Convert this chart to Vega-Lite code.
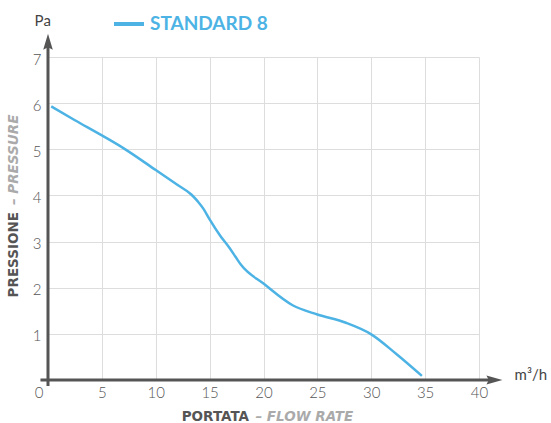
{
  "$schema": "https://vega.github.io/schema/vega-lite/v6.json",
  "width": 431,
  "height": 323,
  "autosize": {"type": "none"},
  "padding": {"left": 48, "top": 57, "right": 72, "bottom": 43},
  "background": "white",
  "config": {"view": {"stroke": null}, "font": "Lato"},
  "datasets": {
    "curve": [
      {"series": "STANDARD 8", "q": 0.3, "p": 5.93},
      {"series": "STANDARD 8", "q": 2.5, "p": 5.63},
      {"series": "STANDARD 8", "q": 5, "p": 5.3},
      {"series": "STANDARD 8", "q": 7.1, "p": 5.01},
      {"series": "STANDARD 8", "q": 10, "p": 4.55},
      {"series": "STANDARD 8", "q": 12, "p": 4.23},
      {"series": "STANDARD 8", "q": 13.3, "p": 4.02},
      {"series": "STANDARD 8", "q": 13.9, "p": 3.87},
      {"series": "STANDARD 8", "q": 14.4, "p": 3.72},
      {"series": "STANDARD 8", "q": 15, "p": 3.48},
      {"series": "STANDARD 8", "q": 16.0, "p": 3.12},
      {"series": "STANDARD 8", "q": 16.85, "p": 2.86},
      {"series": "STANDARD 8", "q": 17.4, "p": 2.67},
      {"series": "STANDARD 8", "q": 17.93, "p": 2.49},
      {"series": "STANDARD 8", "q": 20, "p": 2.09},
      {"series": "STANDARD 8", "q": 22.7, "p": 1.62},
      {"series": "STANDARD 8", "q": 25, "p": 1.42},
      {"series": "STANDARD 8", "q": 27.65, "p": 1.24},
      {"series": "STANDARD 8", "q": 30, "p": 0.99},
      {"series": "STANDARD 8", "q": 32.3, "p": 0.57},
      {"series": "STANDARD 8", "q": 34.7, "p": 0.09}
    ],
    "one": [{}]
  },
  "layer": [
    {
      "data": {"name": "curve"},
      "mark": {"type": "line", "strokeWidth": 2.5, "interpolate": "monotone"},
      "encoding": {
        "x": {
          "field": "q", "type": "quantitative",
          "scale": {"domain": [0, 40], "nice": false, "zero": false},
          "axis": {
            "values": [0, 5, 10, 15, 20, 25, 30, 35, 40],
            "title": null, "domain": false, "ticks": false,
            "grid": true, "gridColor": "#dddddd", "gridWidth": 1,
            "labelFontSize": 15, "labelColor": "#555555", "labelFontWeight": 300,
            "labelPadding": 5,
            "labelAlign": {"condition": {"test": "datum.value === 0", "value": "right"}, "value": "center"},
            "labelOffset": {"condition": {"test": "datum.value === 0", "value": -5}, "value": 0}
          }
        },
        "y": {
          "field": "p", "type": "quantitative",
          "scale": {"domain": [0, 7], "nice": false, "zero": false},
          "axis": {
            "values": [1, 2, 3, 4, 5, 6, 7],
            "title": null, "domain": false, "ticks": false,
            "grid": true, "gridColor": "#dddddd", "gridWidth": 1,
            "labelFontSize": 15, "labelColor": "#555555", "labelFontWeight": 300,
            "labelPadding": 7, "labelOffset": 2
          }
        },
        "color": {
          "field": "series", "type": "nominal",
          "scale": {"domain": ["STANDARD 8"], "range": ["#4db3e4"]},
          "legend": {
            "title": null, "orient": "none", "legendX": 64, "legendY": -50,
            "padding": 0, "symbolType": "stroke", "symbolSize": 900,
            "symbolStrokeWidth": 4, "labelFontSize": 19, "labelFontWeight": "bold",
            "labelColor": "#4db3e4", "labelOffset": 4, "labelFont": "Lato"
          }
        }
      }
    },
    {
      "data": {"name": "one"},
      "mark": {"type": "rule", "color": "#555555", "strokeWidth": 3},
      "encoding": {"x": {"datum": 0}, "y": {"datum": -0.13}, "y2": {"datum": 7.3}}
    },
    {
      "data": {"name": "one"},
      "mark": {"type": "rule", "color": "#555555", "strokeWidth": 3},
      "encoding": {"y": {"datum": 0}, "x": {"datum": -0.7}, "x2": {"datum": 41.4}}
    },
    {
      "data": {"name": "one"},
      "mark": {"type": "point", "filled": true, "opacity": 1, "color": "#555555", "size": 256, "shape": "M0,-1L0.6,1L0,0.7L-0.6,1Z"},
      "encoding": {"x": {"datum": 0}, "y": {"datum": 7.33}}
    },
    {
      "data": {"name": "one"},
      "mark": {"type": "point", "filled": true, "opacity": 1, "color": "#555555", "size": 256, "shape": "M1,0L-1,0.55L-0.7,0L-1,-0.55Z"},
      "encoding": {"x": {"datum": 41.43}, "y": {"datum": 0}}
    },
    {
      "data": {"name": "one"},
      "mark": {"type": "text", "text": "Pa", "fontSize": 15, "color": "#444444", "align": "center", "baseline": "middle"},
      "encoding": {"x": {"datum": -0.49}, "y": {"datum": 7.79}}
    },
    {
      "data": {"name": "one"},
      "mark": {"type": "text", "text": "m³/h", "fontSize": 15, "color": "#444444", "align": "left", "baseline": "middle"},
      "encoding": {"x": {"datum": 43.3}, "y": {"datum": 0.1}}
    },
    {
      "data": {"name": "one"},
      "mark": {"type": "text", "text": "PORTATA", "font": "DejaVu Sans", "fontSize": 13.5, "fontWeight": "bold", "color": "#555555", "align": "left", "baseline": "middle"},
      "encoding": {"x": {"datum": 12.41}, "y": {"datum": -0.8}}
    },
    {
      "data": {"name": "one"},
      "mark": {"type": "text", "text": "– FLOW RATE", "font": "DejaVu Sans", "fontSize": 13.5, "fontWeight": "bold", "fontStyle": "italic", "color": "#aaaaaa", "align": "left", "baseline": "middle"},
      "encoding": {"x": {"datum": 19.25}, "y": {"datum": -0.8}}
    },
    {
      "data": {"name": "one"},
      "mark": {"type": "text", "text": "PRESSIONE", "font": "DejaVu Sans", "angle": 270, "fontSize": 13.5, "fontWeight": "bold", "color": "#555555", "align": "left", "baseline": "middle"},
      "encoding": {"x": {"datum": -3.18}, "y": {"datum": 1.79}}
    },
    {
      "data": {"name": "one"},
      "mark": {"type": "text", "text": "– PRESSURE", "font": "DejaVu Sans", "angle": 270, "fontSize": 13.5, "fontWeight": "bold", "fontStyle": "italic", "color": "#aaaaaa", "align": "left", "baseline": "middle"},
      "encoding": {"x": {"datum": -3.18}, "y": {"datum": 3.79}}
    }
  ]
}
